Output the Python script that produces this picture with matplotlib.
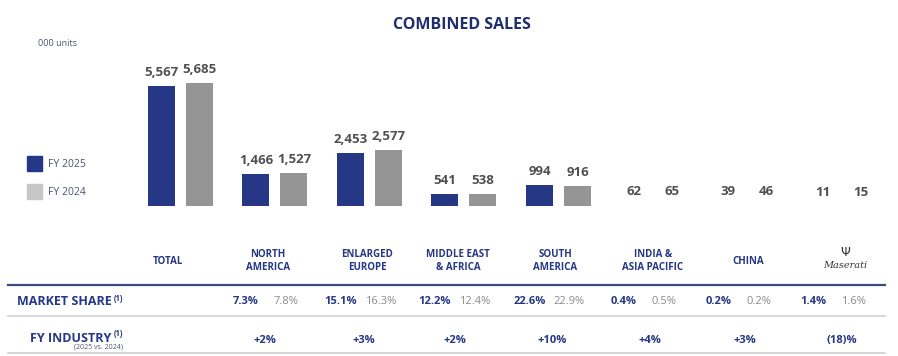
import matplotlib
matplotlib.use("Agg")
import matplotlib.pyplot as plt
from matplotlib.transforms import blended_transform_factory
import numpy as np

# ---- data ----
categories = ["TOTAL", "NORTH\nAMERICA", "ENLARGED\nEUROPE", "MIDDLE EAST\n& AFRICA",
              "SOUTH\nAMERICA", "INDIA &\nASIA PACIFIC", "CHINA", "Maserati"]
sales_2025 = [5567, 1466, 2453, 541, 994, 62, 39, 11]
sales_2024 = [5685, 1527, 2577, 538, 916, 65, 46, 15]
share_2025 = ["", "7.3%", "15.1%", "12.2%", "22.6%", "0.4%", "0.2%", "1.4%"]
share_2024 = ["", "7.8%", "16.3%", "12.4%", "22.9%", "0.5%", "0.2%", "1.6%"]
industry = ["", "+2%", "+3%", "+2%", "+10%", "+4%", "+3%", "(18)%"]
series_names = ["FY 2025", "FY 2024"]

NAVY = "#253785"
GRAY = "#959595"
LGRAY = "#c6c6c6"
TXT = "#4f4f4f"
TITLE = "#1f2f6e"

W, H = 898, 356
plt.rcParams['font.family'] = ['Open Sans', 'DejaVu Sans']
fig = plt.figure(figsize=(W / 100, H / 100), dpi=100)
ax = fig.add_axes([0, 0, 1, 1])
ax.set_axis_off()

# layout in pixels
g0, gstep = 180.5, 94.5
ax.set_xlim(-g0 / gstep, (W - g0) / gstep)
base_px = 206
scale = 0.02158  # px per unit
ax.set_ylim(-(H - base_px) / scale, base_px / scale)

x = np.arange(len(categories))
bw = 27 / gstep
off = 19 / gstep
b1 = ax.bar(x - off, sales_2025, bw, color=NAVY)
b2 = ax.bar(x + off, sales_2024, bw, color=GRAY)
for bars in (b1, b2):
    for r in bars:
        h = r.get_height()
        if h * scale < 2:  # too thin to show in the reference
            r.set_visible(False)
        ax.annotate(f"{int(h):,}", (r.get_x() + r.get_width() / 2, h),
                    xytext=(0, 5), textcoords="offset points", ha="center", va="bottom",
                    fontsize=9.5, fontweight="bold", color=TXT)

def fy(py):
    return 1 - py / H

def fx(px):
    return px / W

tr = blended_transform_factory(ax.transData, fig.transFigure)

# title and units
fig.text(fx(462), fy(25), "COMBINED SALES", ha="center", va="center",
         fontsize=11.5, fontweight="bold", color=TITLE)
fig.text(fx(38), fy(44), "000 units", ha="left", va="center", fontsize=6.5, color="#4a5470")

# legend
for i, (name, col) in enumerate(zip(series_names, [NAVY, LGRAY])):
    yc = 163.5 + i * 28
    fig.patches.append(plt.Rectangle((fx(27), fy(yc + 7.5)), 15 / W, 15 / H,
                                     transform=fig.transFigure, color=col))
    fig.text(fx(48), fy(yc + 1), name, ha="left", va="center", fontsize=7.5, color="#4a5470")

# category labels
lbl_shift = [-13, -7, -2.5, -6, -3.5, 0, 0.5, 3]
for i, c in enumerate(categories):
    xc = i + lbl_shift[i] / gstep
    if c == "Maserati":
        ax.text(xc, fy(252), "Ψ", transform=tr, ha="center", va="center",
                fontsize=9, color="#333333", family=["DejaVu Sans"])
        ax.text(xc, fy(266), "Maserati", transform=tr, ha="center", va="center",
                fontsize=7, style="italic", color="#333333", family=["DejaVu Serif"])
    else:
        ax.text(xc, fy(261), c, transform=tr, ha="center", va="center", fontsize=7,
                fontweight="bold", color=NAVY, linespacing=1.15)

# table lines
ax.plot([fx(8), fx(885)], [fy(284.5)] * 2, transform=fig.transFigure, color="#3c4a82", lw=1.6)
ax.plot([fx(8), fx(885)], [fy(316)] * 2, transform=fig.transFigure, color="#cfcfcf", lw=1.2)
ax.plot([fx(8), fx(885)], [fy(353)] * 2, transform=fig.transFigure, color="#cfcfcf", lw=1.2)

# row headers
fig.text(fx(17), fy(301.5), "MARKET SHARE", ha="left", va="center", fontsize=9,
         fontweight="bold", color=NAVY)
fig.text(fx(114), fy(298.5), "(1)", ha="left", va="center", fontsize=5.5,
         fontweight="bold", color=NAVY)
fig.text(fx(111), fy(338), "FY INDUSTRY", ha="right", va="center", fontsize=9,
         fontweight="bold", color=NAVY)
fig.text(fx(114), fy(334), "(1)", ha="left", va="center", fontsize=5.5,
         fontweight="bold", color=NAVY)
fig.text(fx(123), fy(347.5), "(2025 vs. 2024)", ha="right", va="center", fontsize=5,
         color="#4a5470")

# market share and industry values
for i in range(len(categories)):
    if share_2025[i]:
        ax.text(i - 29 / gstep, fy(301.5), share_2025[i], transform=tr, ha="center",
                va="center", fontsize=8, fontweight="bold", color=NAVY)
        ax.text(i + 11 / gstep, fy(301.5), share_2024[i], transform=tr, ha="center",
                va="center", fontsize=8, color="#8a8a8a")
    if industry[i]:
        ax.text(i + lbl_shift[i] / gstep - 3 / gstep, fy(340.5), industry[i], transform=tr,
                ha="center", va="center", fontsize=8, fontweight="bold", color=NAVY)

fig.savefig("out.png", dpi=100)
